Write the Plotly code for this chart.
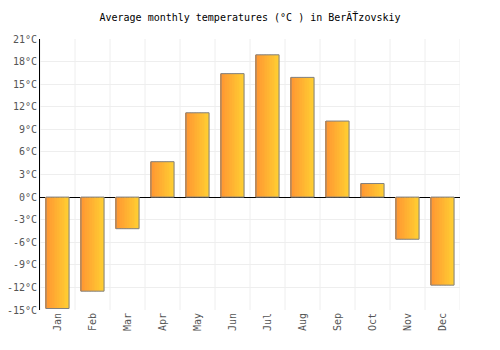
import plotly.graph_objects as go

months = ["Jan", "Feb", "Mar", "Apr", "May", "Jun", "Jul", "Aug", "Sep", "Oct", "Nov", "Dec"]
temps = [-14.8, -12.5, -4.2, 4.7, 11.2, 16.4, 18.9, 15.9, 10.1, 1.8, -5.6, -11.7]
y_ticks = list(range(-15, 22, 3))
y_labels = [f"{v}°C" for v in y_ticks]

fig = go.Figure()

bar_w = 0.66
n_slices = 14
c0 = (255, 150, 50)
c1 = (255, 205, 50)
for i in range(n_slices):
    t = i / (n_slices - 1)
    col = "rgb(%d,%d,%d)" % tuple(round(a + (b - a) * t) for a, b in zip(c0, c1))
    fig.add_trace(go.Bar(
        x=months, y=temps,
        width=bar_w / n_slices + 0.004,
        offset=-bar_w / 2 + i * bar_w / n_slices,
        marker=dict(color=col, line=dict(width=0)),
        hoverinfo="skip", showlegend=False,
    ))
fig.add_trace(go.Bar(
    x=months, y=temps, width=bar_w, offset=-bar_w / 2,
    marker=dict(color="rgba(0,0,0,0)", line=dict(color="#808080", width=1)),
    showlegend=False,
))

font = "DejaVu Sans Mono, monospace"
fig.update_layout(
    width=500, height=350,
    barmode="overlay",
    margin=dict(l=40, r=40, t=39, b=40),
    paper_bgcolor="white", plot_bgcolor="white",
    title=dict(text="Average monthly temperatures (°C ) in BerĂŤzovskiy",
               x=0.5, xanchor="center", y=0.95, yanchor="middle",
               font=dict(family=font, size=10, color="#000000")),
    font=dict(family=font, size=10, color="#555555"),
    xaxis=dict(
        type="category", tickangle=-90, showgrid=False, automargin=False,
        showline=False, ticks="", tickfont=dict(family=font, size=10, color="#555555"),
        range=[-0.5, 11.5],
    ),
    yaxis=dict(
        range=[-15, 21], tickvals=y_ticks, ticktext=y_labels, automargin=False,
        showgrid=True, gridcolor="#eeeeee", gridwidth=1,
        zeroline=True, zerolinecolor="#000000", zerolinewidth=1,
        showline=True, linecolor="#000000", linewidth=1,
        ticks="", tickfont=dict(family=font, size=10, color="#555555"),
    ),
)
# vertical grid lines at category boundaries
for k in range(13):
    fig.add_shape(type="line", xref="x", yref="paper",
                  x0=k - 0.5, x1=k - 0.5, y0=0, y1=1,
                  line=dict(color="#eeeeee", width=1), layer="below")

fig.write_html("out.html")
